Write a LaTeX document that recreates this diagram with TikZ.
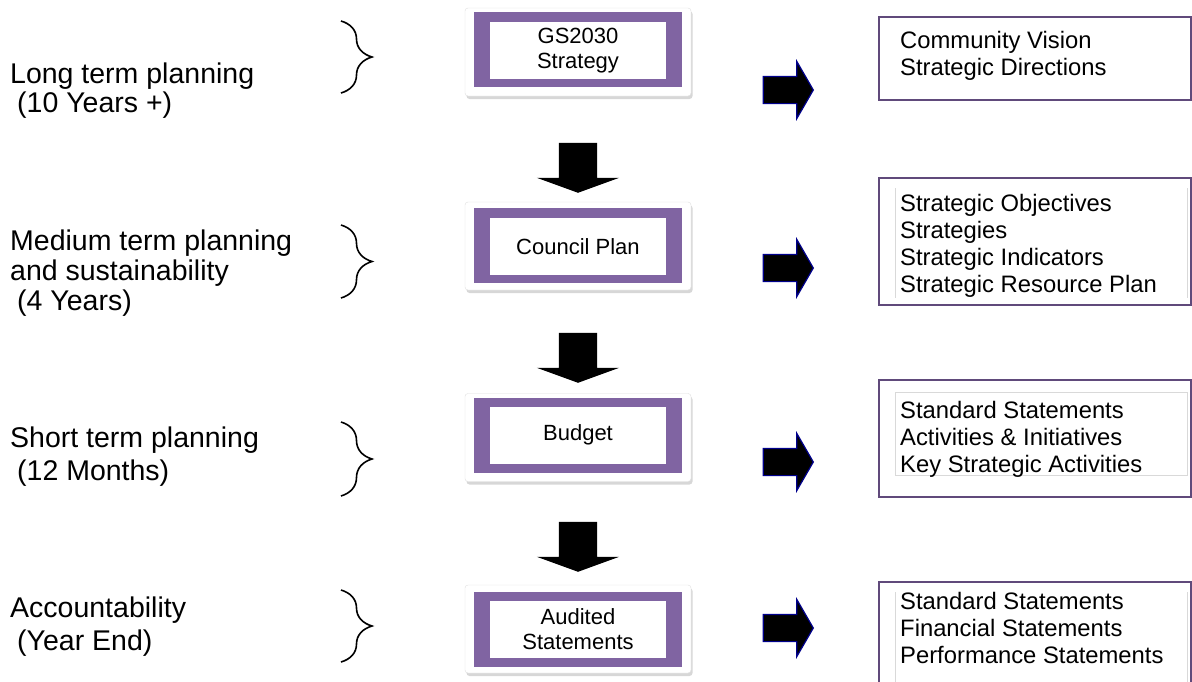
\documentclass[tikz,border=0pt]{standalone}
\usepackage{fontspec}
\setmainfont{Liberation Sans}
\usetikzlibrary{decorations.pathreplacing,shapes.arrows,shadows}
\definecolor{bandpurple}{RGB}{128,100,162}
\definecolor{framepurple}{RGB}{96,74,123}
\definecolor{arrownavy}{RGB}{0,0,140}
\tikzset{stage/.style={font=\fontsize{28.5}{30}\selectfont,align=left,anchor=base west,inner sep=0pt},
        bracket/.style={decorate,decoration={brace,amplitude=31pt},line width=1.6pt},
        docshadow/.style={draw=gray!25,fill=white,rounded corners=3pt,minimum width=226pt,minimum height=88pt,
        drop shadow={shadow xshift=1.5pt,shadow yshift=-3pt,fill=gray!70,opacity=0.45}},
        docband/.style={fill=bandpurple,minimum width=208pt,minimum height=75pt},
        docinner/.style={fill=white,minimum width=176pt,minimum height=57pt,align=center,
        font=\fontsize{22}{25}\selectfont},
        outbox/.style={draw=framepurple,line width=1.3pt},
        outline/.style={draw=gray!30,line width=0.8pt},
        outtext/.style={font=\fontsize{23.8}{27}\selectfont,align=left,anchor=base west,inner sep=0pt},
        downarrow/.style={single arrow,fill=black,inner sep=19pt,minimum height=50pt,minimum width=82pt,
        single arrow head extend=22pt,single arrow tip angle=140,shape border rotate=270,anchor=tip},
        sidearrow/.style={single arrow,fill=black,draw=arrownavy,line width=1.2pt,inner sep=13pt,
        minimum height=50pt,minimum width=56pt,single arrow head extend=15pt,single arrow tip angle=120,anchor=tip}}

\begin{document}
\begin{tikzpicture}[x=1pt,y=-1pt]
\useasboundingbox (0,0) rectangle (1192,681);
\clip (0,0) rectangle (1192,681);

% planning horizons (placed by the baseline of the last line)
\node[stage] (long) at (10,112.5) {Long term planning\\[-1pt]\hspace*{7pt}(10 Years +)};
\node[stage] (medium) at (10,310) {Medium term planning\\and sustainability\\\hspace*{7pt}(4 Years)};
\node[stage] (short) at (10,480) {Short term planning\\[3pt]\hspace*{7pt}(12 Months)};
\node[stage] (account) at (10,650) {Accountability\\[3pt]\hspace*{7pt}(Year End)};

\coordinate (b1t) at (341,21); \coordinate (b1b) at (341,93);
\coordinate (b2t) at (341,225); \coordinate (b2b) at (341,298);
\coordinate (b3t) at (341,422); \coordinate (b3b) at (341,496);
\coordinate (b4t) at (341,590); \coordinate (b4b) at (341,662);
\draw[bracket] (b1t) -- (b1b);
\draw[bracket] (b2t) -- (b2b);
\draw[bracket] (b3t) -- (b3b);
\draw[bracket] (b4t) -- (b4b);

% documents
\node[docshadow] (gsS) at (578,52) {};
\node[docband] (gsB) at (578,49.5) {};
\node[docinner] (gs) at (578,50.5) {GS2030\\Strategy};

\node[docshadow] (planS) at (578,246) {};
\node[docband] (planB) at (578,245.5) {};
\node[docinner] (plan) at (578,246.5) {Council Plan};

\node[docshadow] (budgetS) at (578,437.5) {};
\node[docband] (budgetB) at (578,435) {};
\node[docinner] (budget) at (578,435) {Budget};

\node[docshadow] (auditS) at (578,629) {};
\node[docband] (auditB) at (578,629) {};
\node[docinner] (audit) at (578,629) {Audited\\Statements};

\node[downarrow] (d1) at (578,193) {};
\node[downarrow] (d2) at (578,383) {};
\node[downarrow] (d3) at (578,572) {};

% contents (placed by the baseline of the last line)
\draw[outbox] (879,17) rectangle (1191,100);
\node[outtext] (vision) at (900,75) {Community Vision\\Strategic Directions};

\draw[outbox] (879,178) rectangle (1191,305);
\draw[outline] (895,188) -- (895,298) (1187,188) -- (1187,298);
\node[outtext] (objectives) at (900,292) {Strategic Objectives\\Strategies\\Strategic Indicators\\Strategic Resource Plan};

\draw[outbox] (879,380) rectangle (1191,497);
\draw[outline] (895,392) rectangle (1187,475);
\node[outtext] (statements) at (900,472) {Standard Statements\\Activities \& Initiatives\\Key Strategic Activities};

\draw[outbox] (879,582) rectangle (1191,700);
\draw[outline] (895,592) -- (895,690) (1187,592) -- (1187,690);
\node[outtext] (financial) at (900,663) {Standard Statements\\Financial Statements\\Performance Statements};

\node[sidearrow] (r1) at (814,90) {};
\node[sidearrow] (r2) at (814,268) {};
\node[sidearrow] (r3) at (814,462) {};
\node[sidearrow] (r4) at (814,628) {};
\end{tikzpicture}
\end{document}
